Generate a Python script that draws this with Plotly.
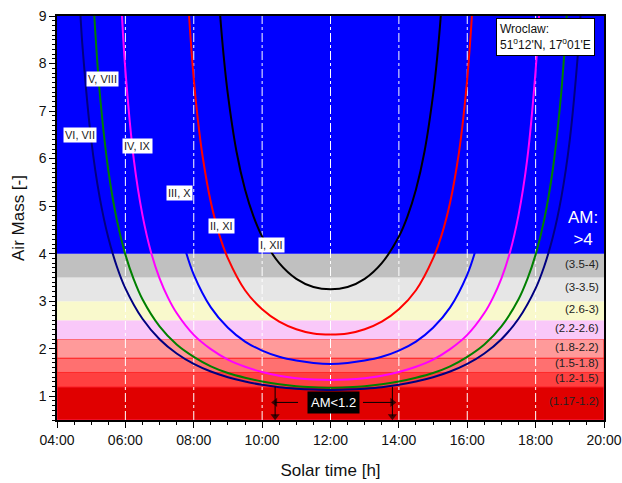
import plotly.graph_objects as go

FONT = "Liberation Sans, Arial, sans-serif"

# ---- air-mass bands ----
band_low = [0.5, 1.2, 1.5, 1.8, 2.2, 2.6, 3.0, 3.5, 4.0]
band_high = [1.2, 1.5, 1.8, 2.2, 2.6, 3.0, 3.5, 4.0, 9.0]
band_fill = ["#E00000", "#FF4040", "#FF7070", "#FF9A9A", "#F9C8F9",
             "#F9F9CC", "#E6E6E6", "#C0C0C0", "#0000FF"]
band_edge = ["#FF2050", "#FF2A2A", "#FF2A2A", "#FF2020", None,
             None, None, None, None]
band_label = ["(1.17-1.2)", "(1.2-1.5)", "(1.5-1.8)", "(1.8-2.2)", "(2.2-2.6)",
              "(2.6-3)", "(3-3.5)", "(3.5-4)", None]

# ---- air mass over the day, month pairs ----
hours_i_xii = [8.65, 8.75, 8.875, 9.0, 9.25, 9.5, 9.75, 10.0, 10.5, 11.0, 11.5, 12.0,
               12.5, 13.0, 13.5, 14.0, 14.25, 14.5, 14.75, 15.0, 15.125, 15.25, 15.35]
am_i_xii = [10.34, 9.23, 8.16, 7.34, 6.15, 5.35, 4.78, 4.36, 3.80, 3.47, 3.30, 3.25,
            3.30, 3.47, 3.80, 4.36, 4.78, 5.35, 6.15, 7.34, 8.16, 9.23, 10.34]

hours_ii_xi = [7.75, 7.85, 8.0, 8.125, 8.25, 8.5, 8.75, 9.0, 9.5, 10.0, 10.5, 11.0, 11.5, 12.0,
               12.5, 13.0, 13.5, 14.0, 14.5, 15.0, 15.25, 15.5, 15.75, 15.875, 16.0, 16.15, 16.25]
am_ii_xi = [10.54, 9.16, 7.68, 6.79, 6.09, 5.08, 4.39, 3.90, 3.23, 2.83, 2.57, 2.41, 2.32, 2.30,
            2.32, 2.41, 2.57, 2.83, 3.23, 3.90, 4.39, 5.08, 6.09, 6.79, 7.68, 9.16, 10.54]

hours_iii_x = [6.815, 6.884, 7.0, 7.25, 7.5, 7.75, 8.0, 8.5, 9.0, 9.5, 10.0, 10.5, 11.0, 11.5, 12.0,
               12.5, 13.0, 13.5, 14.0, 14.5, 15.0, 15.5, 16.0, 16.25, 16.5, 16.75, 17.0, 17.116, 17.185]
am_iii_x = [10.0, 9.0, 7.72, 5.93, 4.83, 4.09, 3.56, 2.87, 2.44, 2.15, 1.96, 1.83, 1.75, 1.70, 1.68,
            1.70, 1.75, 1.83, 1.96, 2.15, 2.44, 2.87, 3.56, 4.09, 4.83, 5.93, 7.72, 9.0, 10.0]

hours_iv_ix = [5.832, 5.901, 6.0, 6.25, 6.5, 6.75, 7.0, 7.25, 7.5, 8.0, 8.5, 9.0, 9.5, 10.0, 10.5, 11.0, 11.5, 12.0,
               12.5, 13.0, 13.5, 14.0, 14.5, 15.0, 15.5, 16.0, 16.5, 16.75, 17.0, 17.25, 17.5, 17.75, 18.0, 18.099, 18.168]
am_iv_ix = [10.0, 9.0, 7.86, 5.96, 4.81, 4.03, 3.48, 3.07, 2.75, 2.29, 1.99, 1.77, 1.62, 1.51, 1.43, 1.38, 1.35, 1.34,
            1.35, 1.38, 1.43, 1.51, 1.62, 1.77, 1.99, 2.29, 2.75, 3.07, 3.48, 4.03, 4.81, 5.96, 7.86, 9.0, 10.0]

hours_v_viii = [5.0, 5.091, 5.25, 5.5, 5.75, 6.0, 6.25, 6.5, 7.0, 7.5, 8.0, 8.5, 9.0, 9.5, 10.0, 10.5, 11.0, 11.5, 12.0,
                12.5, 13.0, 13.5, 14.0, 14.5, 15.0, 15.5, 16.0, 16.5, 17.0, 17.5, 17.75, 18.0, 18.25, 18.5, 18.75, 18.909, 19.0]
am_v_viii = [10.27, 9.0, 7.39, 5.76, 4.71, 3.98, 3.45, 3.04, 2.47, 2.09, 1.83, 1.63, 1.49, 1.39, 1.31, 1.25, 1.21, 1.19, 1.18,
             1.19, 1.21, 1.25, 1.31, 1.39, 1.49, 1.63, 1.83, 2.09, 2.47, 3.04, 3.45, 3.98, 4.71, 5.76, 7.39, 9.0, 10.27]

hours_vi_vii = [4.608, 4.687, 4.75, 5.0, 5.25, 5.5, 5.75, 6.0, 6.5, 7.0, 7.5, 8.0, 8.5, 9.0, 9.5, 10.0, 10.5, 11.0, 11.5, 12.0,
                12.5, 13.0, 13.5, 14.0, 14.5, 15.0, 15.5, 16.0, 16.5, 17.0, 17.5, 18.0, 18.25, 18.5, 18.75, 19.0, 19.25, 19.313, 19.392]
am_vi_vii = [10.0, 9.0, 8.32, 6.40, 5.18, 4.34, 3.73, 3.27, 2.63, 2.20, 1.90, 1.68, 1.52, 1.40, 1.31, 1.24, 1.19, 1.16, 1.14, 1.13,
             1.14, 1.16, 1.19, 1.24, 1.31, 1.40, 1.52, 1.68, 1.90, 2.20, 2.63, 3.27, 3.73, 4.34, 5.18, 6.40, 8.32, 9.0, 10.0]

series = [
    ("I, XII", hours_i_xii, am_i_xii, "#000000", 10.28, 4.18),
    ("II, XI", hours_ii_xi, am_ii_xi, "#FF0000", 8.81, 4.59),
    ("III, X", hours_iii_x, am_iii_x, "#0000FF", 7.58, 5.27),
    ("IV, IX", hours_iv_ix, am_iv_ix, "#FF00FF", 6.36, 6.26),
    ("V, VIII", hours_v_viii, am_v_viii, "#008000", 5.32, 7.67),
    ("VI, VII", hours_vi_vii, am_vi_vii, "#000080", 4.66, 6.50),
]

# ---- axis ticks ----
tick_hours = [4, 6, 8, 10, 12, 14, 16, 18, 20]
tick_text = ["04:00", "06:00", "08:00", "10:00", "12:00", "14:00", "16:00", "18:00", "20:00"]
grid_hours = [6, 8, 10, 12, 14, 16, 18]
am_ticks = [1, 2, 3, 4, 5, 6, 7, 8, 9]

# ---- window where AM < 1.2 ----
am_limit = 1.2
window_start, window_end = 10.38, 13.81
window_label_am = 0.87
window_box_left, window_box_right = 11.05, 12.95

fig = go.Figure()

for lo, hi, fill, edge in zip(band_low, band_high, band_fill, band_edge):
    fig.add_shape(type="rect", xref="x", yref="y", x0=4, x1=20, y0=lo, y1=hi,
                  fillcolor=fill, layer="below",
                  line=dict(color=edge or fill, width=1 if edge else 0))

# dash-dot vertical grid drawn over the bands
for h in grid_hours:
    fig.add_shape(type="line", xref="x", yref="y", x0=h, x1=h, y0=0.5, y1=9,
                  layer="below", line=dict(color="white", width=1, dash="dashdot"))

for name, hrs, am, color, lx, ly in series:
    fig.add_trace(go.Scatter(x=hrs, y=am, mode="lines", name=name,
                             line=dict(color=color, width=2, shape="spline", smoothing=1.0),
                             showlegend=False, hoverinfo="skip"))
    fig.add_annotation(x=lx, y=ly, xref="x", yref="y", text=name, showarrow=False,
                       font=dict(family=FONT, size=11, color="#222222"),
                       bgcolor="white", borderpad=1)

for lo, hi, lab in zip(band_low, band_high, band_label):
    if lab is None:
        continue
    fig.add_annotation(x=20, y=(lo + hi) / 2, xref="x", yref="y", text=lab,
                       showarrow=False, xanchor="right", yanchor="middle",
                       xshift=-3, yshift=2,
                       font=dict(family=FONT, size=11.5, color="#222222"))

fig.add_annotation(x=19.39, y=4.52, xref="x", yref="y", text="AM:<br>&gt;4",
                   showarrow=False, align="center",
                   font=dict(family=FONT, size=17, color="white"))

fig.add_annotation(x=16.85, y=8.95, xref="x", yref="y", xanchor="left", yanchor="top",
                   text="Wroclaw:<br>51<sup>o</sup>12'N, 17<sup>o</sup>01'E",
                   showarrow=False, align="left", bgcolor="white",
                   bordercolor="black", borderwidth=1, borderpad=3,
                   font=dict(family=FONT, size=12, color="#111111"))

# AM<1.2 window marker: label, horizontal pointers and vertical drop lines
fig.add_annotation(x=(window_start + window_end) / 2, y=window_label_am, xref="x", yref="y",
                   text="AM&lt;1.2", showarrow=False, bgcolor="black", borderpad=3,
                   font=dict(family=FONT, size=13, color="white"))
pointer_heads = {window_start: "triangle-left", window_end: "triangle-right"}
for head, tail in ((window_start, window_box_left), (window_end, window_box_right)):
    fig.add_trace(go.Scatter(x=[tail, head], y=[window_label_am, window_label_am],
                             mode="lines+markers", line=dict(color="black", width=1),
                             marker=dict(symbol=["circle", pointer_heads[head]], size=[0, 8],
                                         color="black", line=dict(width=0)),
                             showlegend=False, hoverinfo="skip", cliponaxis=False))
    fig.add_trace(go.Scatter(x=[head, head], y=[am_limit, 0.58],
                             mode="lines+markers", line=dict(color="black", width=1),
                             marker=dict(symbol=["circle", "triangle-down"], size=[0, 8],
                                         color="black", line=dict(width=0)),
                             showlegend=False, hoverinfo="skip", cliponaxis=False))

fig.update_layout(
    width=622, height=483,
    margin=dict(l=57, r=18, t=16, b=63, autoexpand=False),
    paper_bgcolor="white", plot_bgcolor="white",
    font=dict(family=FONT, color="#111111"),
    xaxis=dict(range=[4, 20], tickvals=tick_hours, ticktext=tick_text, automargin=False,
               ticks="outside", ticklen=6, tickwidth=1, tickcolor="black",
               minor=dict(dtick=0.5, tick0=4, ticks="outside", ticklen=3, tickcolor="black", showgrid=False),
               showgrid=False,
               showline=True, linecolor="black", linewidth=1.5, mirror=True,
               zeroline=False, tickfont=dict(size=14),
               title=dict(text="Solar time [h]", font=dict(size=17), standoff=18)),
    yaxis=dict(range=[0.5, 9], tickvals=am_ticks, automargin=False,
               ticks="outside", ticklen=6, tickwidth=1, tickcolor="black",
               minor=dict(dtick=0.1, tick0=0, ticks="outside", ticklen=3, tickcolor="black", showgrid=False),
               showgrid=False, showline=True, linecolor="black", linewidth=1.5, mirror=True,
               zeroline=False, tickfont=dict(size=14),
               title=dict(text="Air Mass [-]", font=dict(size=17), standoff=10)),
)

fig.write_html("out.html")
